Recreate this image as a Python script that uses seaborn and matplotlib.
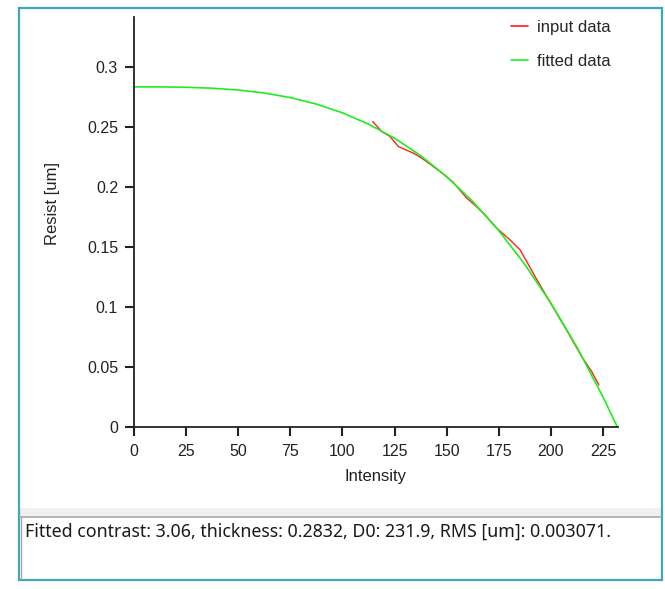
import pandas as pd
import seaborn as sns
import matplotlib.pyplot as plt
from matplotlib.patches import Rectangle
from matplotlib.lines import Line2D

# =============================================================================
# Data
# =============================================================================

input_intensity = [114.5, 118.8, 122.8, 126.8, 129.2, 134.0, 138.0, 142.0,
                   146.8, 153.0, 159.6, 164.0, 168.4, 174.0, 180.4, 185.2,
                   188.4, 192.4, 197.2, 202.8, 208.4, 214.8, 219.6, 223.0]
input_resist = [0.2544, 0.2461, 0.2419, 0.2336, 0.2317, 0.2281, 0.2239, 0.2189,
                0.2128, 0.2040, 0.1906, 0.1840, 0.1767, 0.1656, 0.1558, 0.1475,
                0.1378, 0.1253, 0.1110, 0.0947, 0.0781, 0.0586, 0.0461, 0.0350]

fit_intensity = [0, 12.5, 25, 37.5, 50, 62.5, 75, 87.5, 100, 112.5, 125, 137.5,
                 150, 162.5, 175, 187.5, 200, 212.5, 225, 231.9]
fit_resist = [0.2832, 0.2832, 0.2829, 0.2821, 0.2806, 0.2781, 0.2743, 0.2689,
              0.2616, 0.2522, 0.2405, 0.2260, 0.2085, 0.1878, 0.1635, 0.1354,
              0.1031, 0.0665, 0.0250, 0.0]

x_ticks = [0, 25, 50, 75, 100, 125, 150, 175, 200, 225]
y_ticks = [0, 0.05, 0.1, 0.15, 0.2, 0.25, 0.3]
y_tick_labels = ["0", "0.05", "0.1", "0.15", "0.2", "0.25", "0.3"]

status_text = "Fitted contrast: 3.06, thickness: 0.2832, D0: 231.9, RMS [um]: 0.003071."

df_input = pd.DataFrame({"Intensity": input_intensity, "Resist": input_resist})
df_fit = pd.DataFrame({"Intensity": fit_intensity, "Resist": fit_resist})

# =============================================================================
# Plot
# =============================================================================

sns.set_style("ticks")
plt.rcParams["font.family"] = ["Liberation Sans", "DejaVu Sans"]

W, H = 665, 589
fig = plt.figure(figsize=(W / 100, H / 100), dpi=100)
fig.patch.set_facecolor("white")

ax_l, ax_r, ax_t, ax_b = 134, 618, 17, 427
ax = fig.add_axes([ax_l / W, 1 - ax_b / H, (ax_r - ax_l) / W, (ax_b - ax_t) / H])

sns.lineplot(data=df_input, x="Intensity", y="Resist", color="#ff2020",
             linewidth=1.0, ax=ax, label="input data")
sns.lineplot(data=df_fit, x="Intensity", y="Resist", color="#1cf01c",
             linewidth=1.2, ax=ax, label="fitted data")

ax.set_xlim(0, 232.2)
ax.set_ylim(0, 0.3414)
ax.set_xticks(x_ticks)
ax.set_yticks(y_ticks)
ax.set_yticklabels(y_tick_labels)

for side in ["top", "right"]:
    ax.spines[side].set_visible(False)
for side in ["left", "bottom"]:
    ax.spines[side].set_color("#222222")
    ax.spines[side].set_linewidth(1.3)

ax.tick_params(axis="both", labelsize=11.5, labelcolor="#222222")
ax.tick_params(axis="x", pad=8.5)
ax.tick_params(axis="y", pad=8)

# make sure the outward tick marks get drawn
for tick in ax.xaxis.get_major_ticks() + ax.yaxis.get_major_ticks():
    tick.tick1line.set_visible(True)
    tick.tick1line.set_markersize(6.5)
    tick.tick1line.set_markeredgewidth(1.5)
    tick.tick1line.set_markeredgecolor("#222222")
    tick.tick1line.set_color("#222222")
    tick.tick2line.set_visible(False)
for tick in ax.xaxis.get_major_ticks():
    tick.tick1line.set_marker(3)  # TICKDOWN
for tick in ax.yaxis.get_major_ticks():
    tick.tick1line.set_marker(0)  # TICKLEFT

ax.set_xlabel("Intensity", fontsize=12, color="#222222")
ax.xaxis.set_label_coords(0.5, (ax_b - 477) / (ax_b - ax_t))
ax.xaxis.label.set_verticalalignment("center")
ax.set_ylabel("Resist [um]", fontsize=12, color="#222222")
ax.yaxis.set_label_coords((53 - ax_l) / (ax_r - ax_l), (ax_b - 204) / (ax_b - ax_t))
ax.yaxis.label.set_verticalalignment("center")

handles = [Line2D([], [], color="#ff2020", lw=1.2),
           Line2D([], [], color="#1cf01c", lw=1.2)]
ax.legend(handles, ["input data", "fitted data"], loc="upper left",
          bbox_to_anchor=(511 / W, 1 - 20 / H), bbox_transform=fig.transFigure,
          frameon=False, fontsize=12, handlelength=1.0, handletextpad=0.55,
          labelspacing=1.15, borderpad=0, borderaxespad=0)

# window decoration: separator, status box and teal border
fig.add_artist(Rectangle((20 / W, 1 - 517 / H), 641 / W, 9 / H,
                         transform=fig.transFigure, facecolor="#f0f0f0",
                         edgecolor="none"))
fig.add_artist(Line2D([20 / W, 661 / W], [1 - 517 / H, 1 - 517 / H],
                      transform=fig.transFigure, color="#a8a8a8", lw=1.2))
fig.add_artist(Line2D([21 / W, 21 / W], [1 - 517 / H, 1 - 579 / H],
                      transform=fig.transFigure, color="#a8a8a8", lw=1.0))
fig.add_artist(Rectangle((19 / W, 1 - 580 / H), 643 / W, 572 / H,
                         transform=fig.transFigure, facecolor="none",
                         edgecolor="#3fa6bd", lw=1.6))

fig.text(25 / W, 1 - 532 / H, status_text, fontsize=12.8,
         family=["Noto Sans", "DejaVu Sans"],
         color="#1a1a1a", ha="left", va="center")

plt.savefig("out.png", dpi=100)
